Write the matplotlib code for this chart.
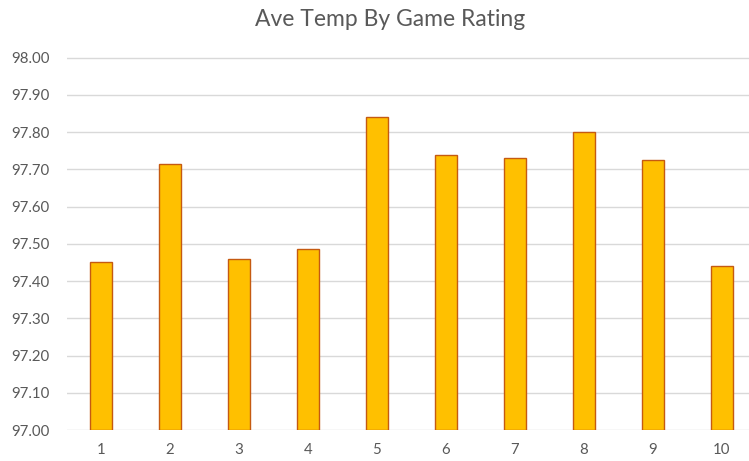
import matplotlib
matplotlib.use("Agg")
import matplotlib.pyplot as plt

ratings = ["1", "2", "3", "4", "5", "6", "7", "8", "9", "10"]
ave_temp = [97.45, 97.715, 97.46, 97.485, 97.84, 97.737, 97.73, 97.80, 97.725, 97.44]
y_ticks = [97.0, 97.1, 97.2, 97.3, 97.4, 97.5, 97.6, 97.7, 97.8, 97.9, 98.0]
title = "Ave Temp By Game Rating"

plt.rcParams['font.family'] = ['Lato', 'DejaVu Sans']

W, H = 749, 461
fig = plt.figure(figsize=(W / 100, H / 100), dpi=100)
left_px, right_px, top_px, bottom_px = 66.5, 756.5, 57.5, 430
ax = fig.add_axes([left_px / W, 1 - bottom_px / H, (right_px - left_px) / W, (bottom_px - top_px) / H])

x = list(range(len(ratings)))
ax.bar(x, [v - 97.0 for v in ave_temp], bottom=97.0, width=0.32,
       color="#FFC000", edgecolor="#C55A11", linewidth=1.0, zorder=3)
ax.set_xlim(-0.5, len(ratings) - 0.5)
ax.set_ylim(97.0, 98.0)
ax.set_yticks(y_ticks)
ax.set_yticklabels([f"{t:.2f}" for t in y_ticks])
ax.set_xticks(x)
ax.set_xticklabels(ratings)
ax.grid(axis="y", color="#D9D9D9", linewidth=1.0, zorder=0)
ax.set_axisbelow(True)
for s in ax.spines.values():
    s.set_visible(False)
ax.tick_params(axis="both", length=0, labelsize=10.8, labelcolor="#595959")
ax.tick_params(axis="y", pad=12)
ax.tick_params(axis="x", pad=9)
fig.text(390 / W, 1 - 20 / H, title, ha="center", va="center", fontsize=16.5, color="#595959")

fig.savefig("out.png", dpi=100)
